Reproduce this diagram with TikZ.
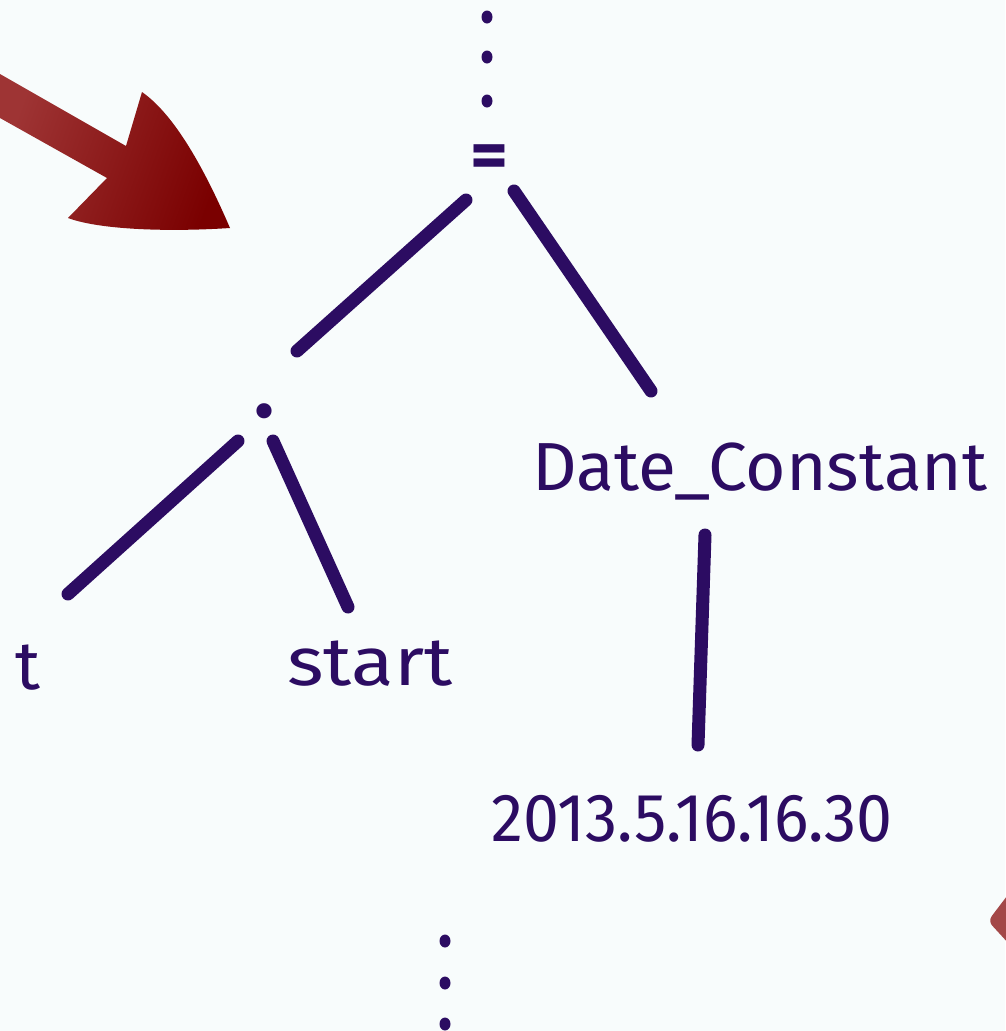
\documentclass[tikz,border=0pt]{standalone}
\usepackage{fontspec}
\setmainfont{Fira Sans}
\definecolor{bg}{RGB}{248,252,252}
\definecolor{ink}{RGB}{44,12,98}
\definecolor{arrowlight}{RGB}{158,52,52}
\definecolor{arrowdark}{RGB}{122,0,0}
\definecolor{arrowfaint}{RGB}{163,72,72}
% set a label at a given width, keeping its natural height
\newcommand{\widelabel}[2]{\resizebox{#1}{\height}{#2}}
\begin{document}
\begin{tikzpicture}[x=1pt,y=-1pt,
  edge/.style={draw=ink,line width=13pt,line cap=round},
  lbl/.style={text=ink,inner sep=0pt,font=\fontsize{68}{70}\selectfont},
  dotmark/.style={fill=ink,draw=none}]
  % canvas
  \fill[bg] (0,0) rectangle (1005,1031);
  \useasboundingbox (0,0) rectangle (1005,1031);

  % big red arrow, upper left
  \shade[left color=arrowlight,right color=arrowdark,shading angle=70]
    (0,74) -- (126,146) -- (142,92)
    .. controls (175,115) and (205,170) .. (230,228)
    .. controls (170,232) and (100,230) .. (68,218)
    -- (107,178) -- (0,118) -- cycle;

  % edge of a second arrow, lower right
  \fill[arrowfaint,rounded corners=6pt]
    (1010,892) -- (988,921) -- (1010,945) -- cycle;

  % ellipsis above the root
  \foreach \yy in {17,57,101}
    \fill[dotmark] (487,\yy) ellipse (5.5pt and 6.5pt);

  % tree nodes
  \node[lbl] (eq) at (489,162) {\widelabel{38pt}{\bfseries =}};
  \node[lbl] (dot) at (265,411) {\scalebox{1.6}{.}};
  \node[lbl] (t) at (28,668) {\widelabel{25pt}{t}};
  \node[lbl] (start) at (370,664) {\widelabel{165pt}{start}};
  \node[lbl] (dc) at (760,471) {\widelabel{455pt}{Date\_Constant}};
  \node[lbl] (val) at (692,819) {\widelabel{401pt}{2013.5.16.16.30}};

  % branches
  \coordinate (eqL) at (466,200);  \coordinate (dotU) at (297,351);
  \coordinate (eqR) at (514,191);  \coordinate (dcU) at (651,391);
  \coordinate (dotL) at (238,441); \coordinate (tU) at (68,594);
  \coordinate (dotR) at (273,441); \coordinate (stU) at (348,607);
  \coordinate (dcD) at (705,535);  \coordinate (valU) at (698,745);
  \draw[edge] (eqL) -- (dotU);
  \draw[edge] (eqR) -- (dcU);
  \draw[edge] (dotL) -- (tU);
  \draw[edge] (dotR) -- (stU);
  \draw[edge] (dcD) -- (valU);

  % ellipsis below the tree
  \foreach \yy in {941,983,1024}
    \fill[dotmark] (445,\yy) ellipse (5.5pt and 6.5pt);
\end{tikzpicture}
\end{document}
